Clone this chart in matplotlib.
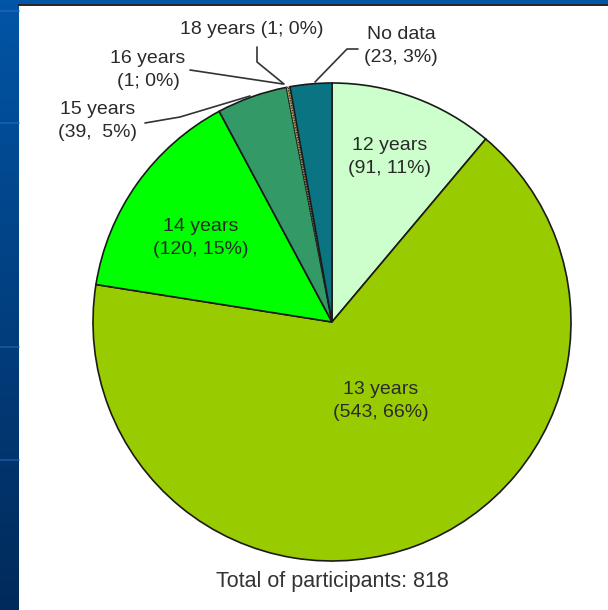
import matplotlib
matplotlib.use("Agg")
import matplotlib.pyplot as plt
import numpy as np
from matplotlib.colors import LinearSegmentedColormap
from matplotlib.patches import Rectangle

# Participants by age
categories = ["12 years", "13 years", "14 years", "15 years", "16 years", "18 years", "No data"]
counts = [91, 543, 120, 39, 1, 1, 23]
separators = [", ", ", ", ", ", ",  ", "; ", "; ", ", "]
total = 818
title = "Total of participants: %d" % total

colors = ["#CCFFCC", "#99CC00", "#00FF00", "#339966", "#B3A26A", "#A8975E", "#0B7482"]

W, H = 608, 610
fig = plt.figure(figsize=(W / 100, H / 100), dpi=100)
ax = fig.add_axes([0, 0, 1, 1])


def fy(y):
    """Convert a top-down pixel row to the axes' bottom-up coordinate."""
    return H - y


# Slide frame: blue gradient band on the left and a thin strip across the top
band = LinearSegmentedColormap.from_list("band", ["#0155A6", "#012A5A"])
ax.imshow(np.linspace(0, 1, 256).reshape(-1, 1), cmap=band,
          extent=(0, 19, 0, H), aspect="auto", zorder=0)
for yy in (11, 123, 347, 460):
    ax.plot([0, 19], [fy(yy), fy(yy)], color="#2a6cc0", lw=1.2, alpha=0.6, zorder=1)
ax.add_patch(Rectangle((0, fy(4)), W, 4, facecolor="#0256A8", edgecolor="none", zorder=1))
ax.plot([19, W], [fy(4.5), fy(4.5)], color="#111111", lw=1.3, zorder=2)

# Pie, clockwise from twelve o'clock
cx, cy, r = 332, 322, 239
wedges, _ = ax.pie(counts, colors=colors, startangle=90, counterclock=False,
                   center=(cx, fy(cy)), radius=r,
                   wedgeprops=dict(edgecolor="#1a1a1a", linewidth=1.2))
for w, n in zip(wedges, counts):
    w.set_zorder(3)
    if n / total < 0.005:
        # hairline slices: thin dotted outline so the fill stays visible
        w.set_linewidth(0.6)
        w.set_linestyle((0, (1.5, 1.5)))

# Slice labels
label_pos = [(390, 157), (381, 401), (201, 238), (98, 121), (148, 70), (252, 30), (401, 46)]
one_line = [False, False, False, False, False, True, False]
for cat, n, sep, (lx, ly), single in zip(categories, counts, separators, label_pos, one_line):
    pct = round(100 * n / total)
    body = f"({n}{sep}{pct}%)"
    txt = f"{cat} {body}" if single else f"{cat}\n{body}"
    ax.text(lx, fy(ly), txt, ha="center", va="center", fontsize=14,
            family="Liberation Sans", color="#2a2a2a", linespacing=1.4, zorder=5)

# Leader lines for the small slices
leaders = [
    [(145, 123), (180, 117), (250, 96)],
    [(190, 70), (283, 84)],
    [(257, 47), (257, 62), (284, 84)],
    [(358, 49), (347, 49), (315, 82)],
]
for pts in leaders:
    xs = [p[0] for p in pts]
    ys = [fy(p[1]) for p in pts]
    ax.plot(xs, ys, color="#333333", lw=1.2, zorder=4, solid_capstyle="round")

ax.text(cx, fy(581), title, ha="center", va="center", fontsize=15.5,
        family="Liberation Sans", color="#333333", zorder=5)

ax.set_xlim(0, W)
ax.set_ylim(0, H)
ax.set_aspect("equal")
ax.axis("off")

fig.savefig("out.png", dpi=100, facecolor="white")
